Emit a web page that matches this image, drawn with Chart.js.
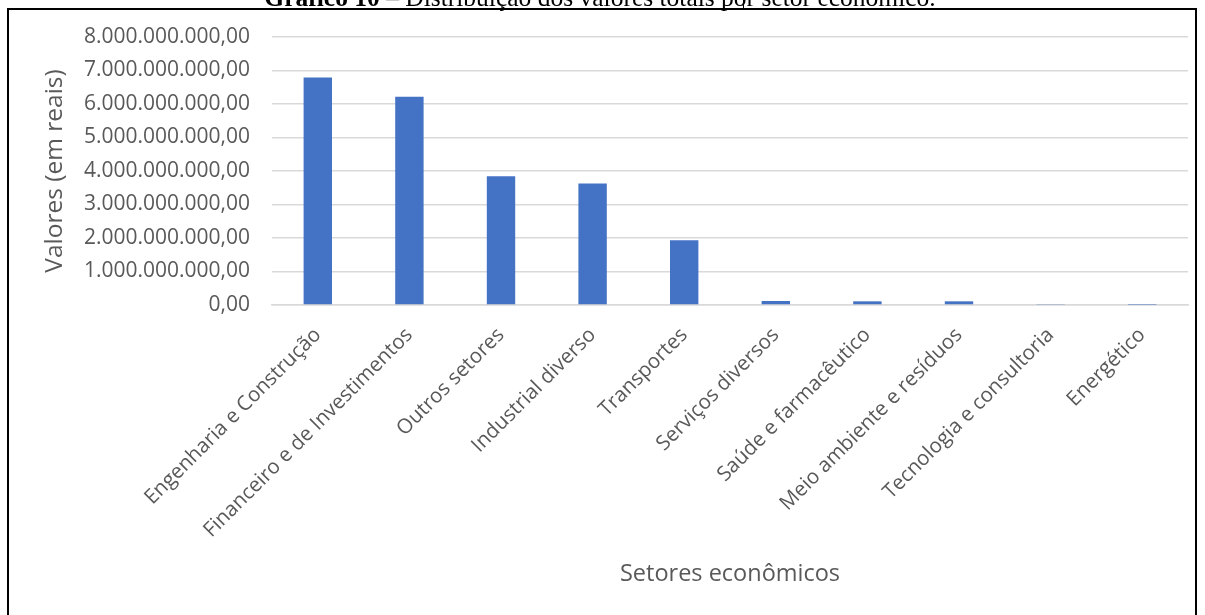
<!DOCTYPE html>
<html>
<head>
<meta charset="utf-8">
<script src="https://cdn.jsdelivr.net/npm/chart.js@4.4.1/dist/chart.umd.min.js"></script>
<style>
  html, body { margin: 0; padding: 0; background: #fff; }
  #box { position: relative; width: 1205px; height: 615px; overflow: hidden; }
</style>
</head>
<body>
<div id="box"><canvas id="sectorChart" width="1205" height="615"></canvas></div>
<script>
// data

const sectors = [
  'Engenharia e Construção',
  'Financeiro e de Investimentos',
  'Outros setores',
  'Industrial diverso',
  'Transportes',
  'Serviços diversos',
  'Saúde e farmacêutico',
  'Meio ambiente e resíduos',
  'Tecnologia e consultoria',
  'Energético'
];

const totals = [
  6790000000, 6220000000, 3840000000, 3630000000, 1930000000,
  120000000, 110000000, 110000000, 30000000, 8000000
];

const yTicks = [0, 1e9, 2e9, 3e9, 4e9, 5e9, 6e9, 7e9, 8e9];

const titleBold = 'Gráfico 10';
const titleRest = ' – Distribuição dos valores totais por setor econômico.';

const labelFont = "'Open Sans', sans-serif";
const grey = '#595959';

// frame + cut-off caption above the chart
const framePlugin = {
  id: 'frame',
  afterDraw(chart) {
    const c = chart.ctx;
    c.save();
    c.strokeStyle = '#000';
    c.lineWidth = 2;
    c.strokeRect(8, 9, 1188, 700);

    // little cell border line poking out above the frame
    c.lineWidth = 1;
    c.beginPath();
    c.moveTo(743.5, 0);
    c.lineTo(743.5, 9);
    c.stroke();

    c.fillStyle = '#000';
    c.textBaseline = 'alphabetic';
    const bold = "bold 25.5px 'Liberation Serif', serif";
    const reg = "25.5px 'Liberation Serif', serif";
    c.font = bold;
    const w1 = c.measureText(titleBold).width;
    c.font = reg;
    const w2 = c.measureText(titleRest).width;
    const x0 = 600 - (w1 + w2) / 2;
    c.font = bold;
    c.fillText(titleBold, x0, 5.5);
    c.font = reg;
    c.fillText(titleRest, x0 + w1, 5.5);
    c.restore();
  }
};

const ctx = document.getElementById('sectorChart');

new Chart(ctx, {
  type: 'bar',
  data: {
    labels: sectors,
    datasets: [{
      data: totals,
      backgroundColor: '#4472C4',
      borderWidth: 0,
      barPercentage: 0.31,
      categoryPercentage: 1
    }]
  },
  options: {
    responsive: false,
    animation: false,
    layout: {
      padding: { left: 36, right: 17, top: 37, bottom: 23 }
    },
    plugins: {
      legend: { display: false },
      tooltip: { enabled: false }
    },
    scales: {
      x: {
        grid: { display: false, drawTicks: false },
        border: { color: '#d9d9d9', width: 1.5 },
        ticks: {
          autoSkip: false,
          minRotation: 45,
          maxRotation: 45,
          padding: 18,
          color: grey,
          font: { family: labelFont, size: 20.5 }
        },
        title: {
          display: true,
          text: 'Setores econômicos',
          color: grey,
          font: { family: labelFont, size: 23.5 },
          padding: 4
        },
        afterFit(scale) { scale.height = 287; }
      },
      y: {
        min: 0,
        max: 8e9,
        afterBuildTicks(scale) {
          scale.ticks = yTicks.map(v => ({ value: v }));
        },
        grid: { color: '#d9d9d9', lineWidth: 1.5, drawTicks: false },
        border: { display: false },
        ticks: {
          padding: 22,
          color: grey,
          font: { family: labelFont, size: 21 },
          callback: function(value) {
            return value.toLocaleString('pt-BR', { minimumFractionDigits: 2, maximumFractionDigits: 2 });
          }
        },
        title: {
          display: true,
          text: 'Valores (em reais)',
          color: grey,
          font: { family: labelFont, size: 24.5 },
          padding: 4
        },
        afterFit(scale) { scale.width = 236; }
      }
    }
  },
  plugins: [framePlugin]
});
</script>
</body>
</html>
